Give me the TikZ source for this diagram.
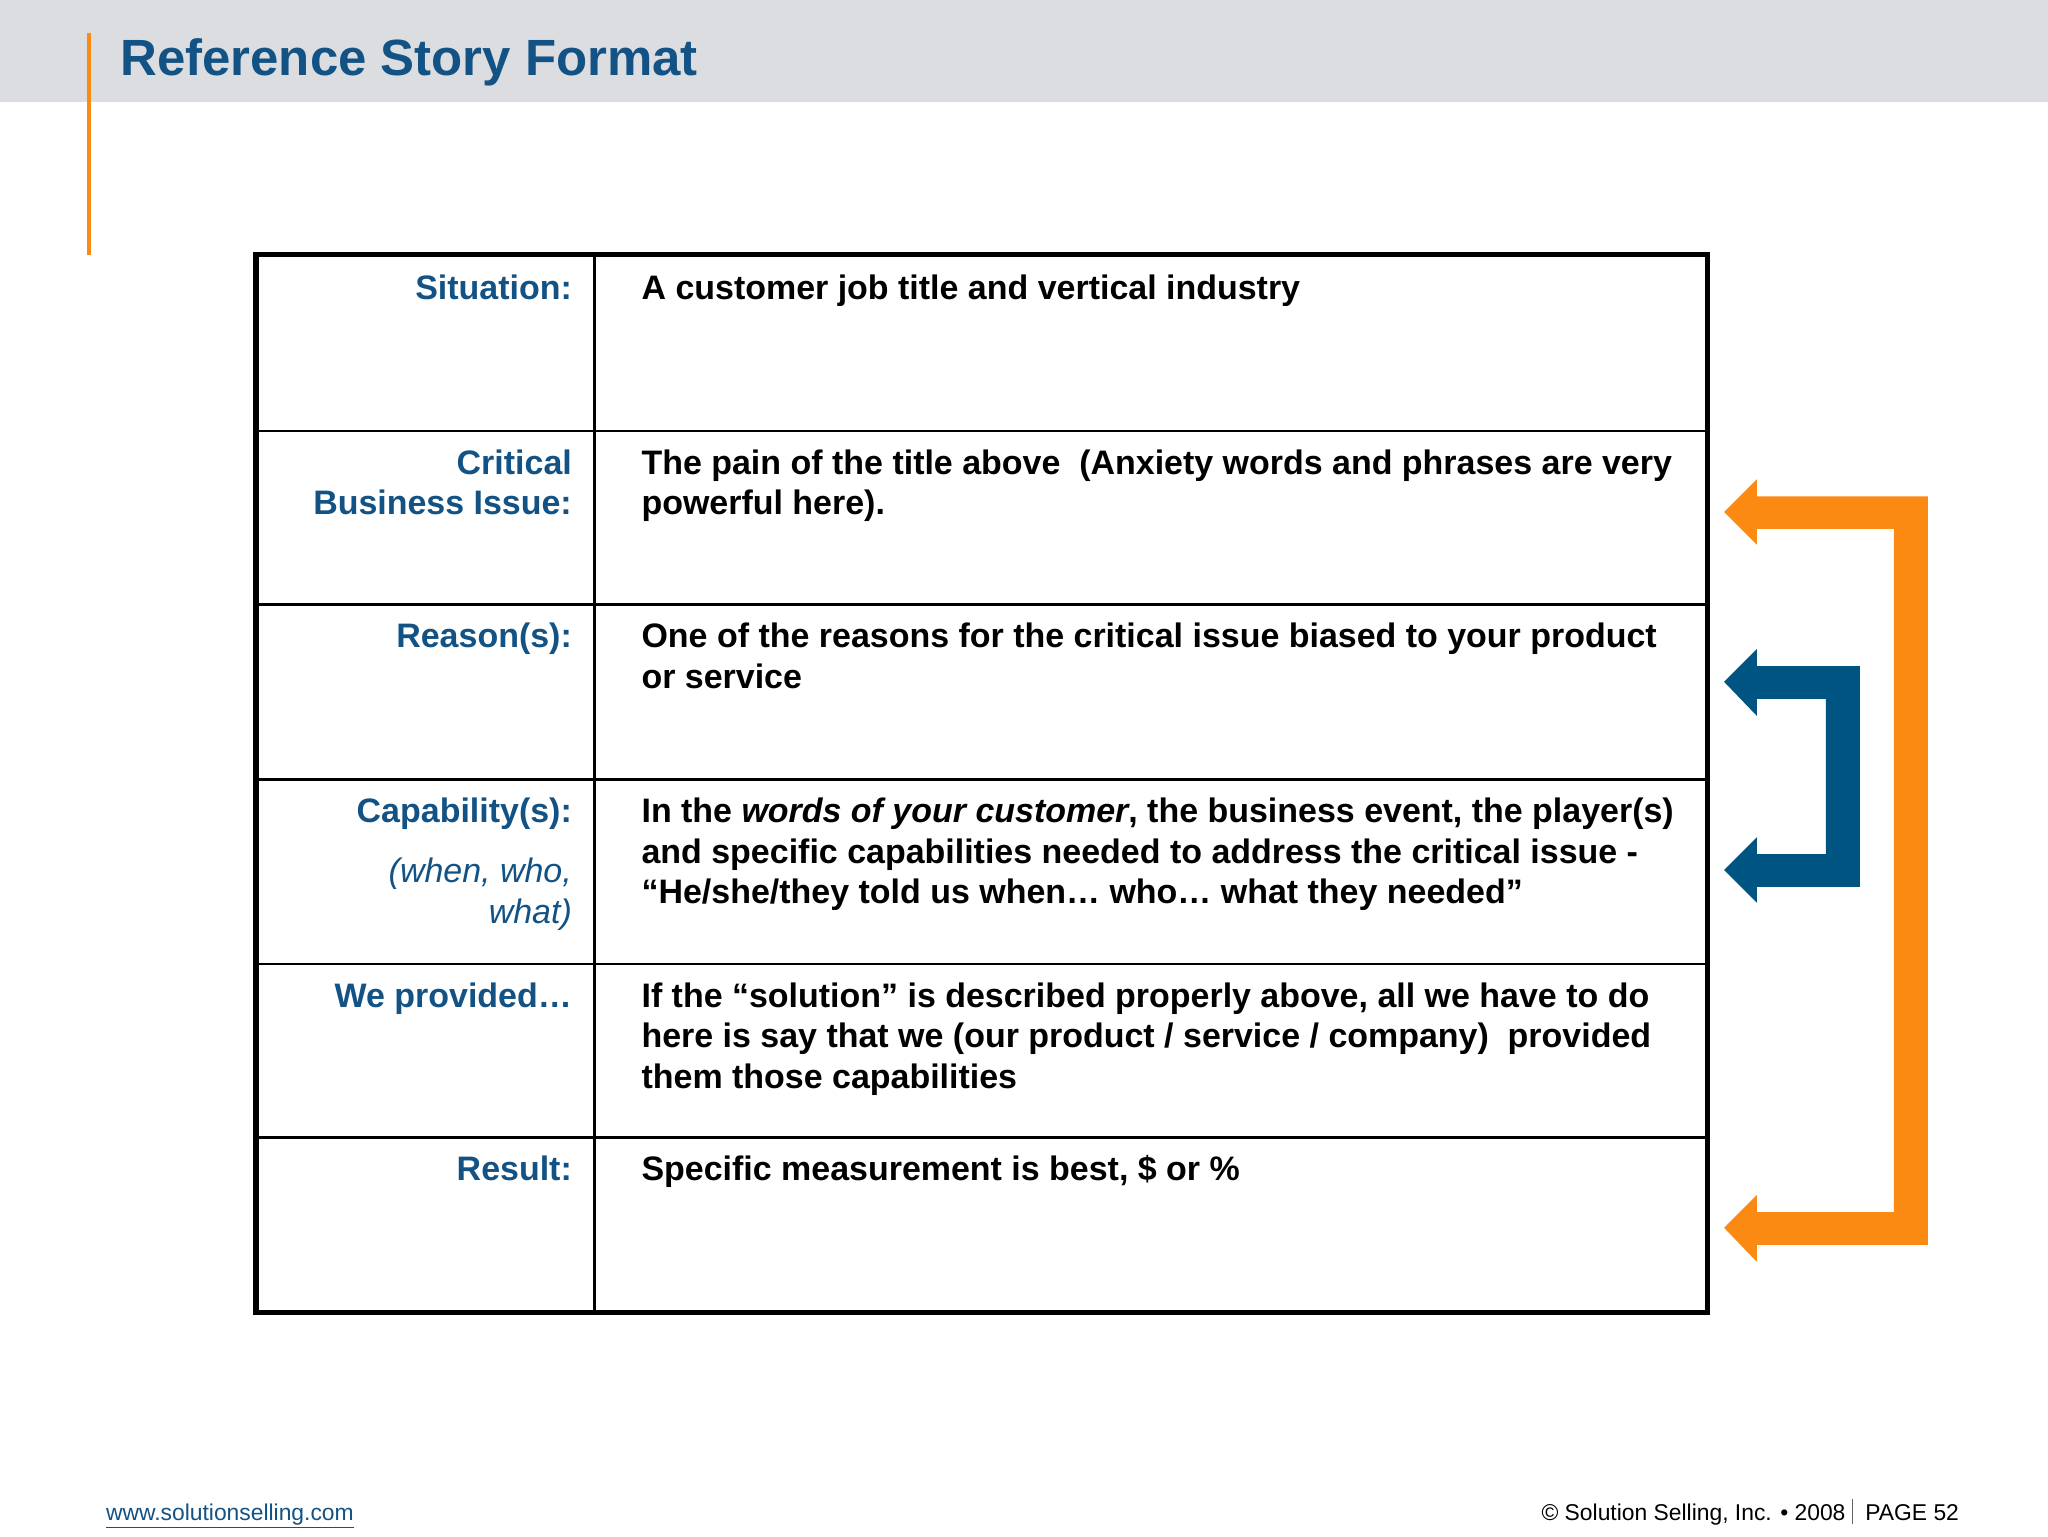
\documentclass[tikz,border=0pt]{standalone}
\usepackage{fontspec}
\setmainfont{Liberation Sans}
\definecolor{hdr}{RGB}{220,221,224}
\definecolor{lblue}{RGB}{18,82,132}
\definecolor{bblue}{RGB}{0,84,130}
\definecolor{org}{RGB}{250,138,18}
\begin{document}
\begin{tikzpicture}[x=1pt,y=-1pt,
  lbl/.style={anchor=base east,inner sep=0,font=\fontsize{26}{26}\selectfont\bfseries,text=lblue},
  body/.style={anchor=base west,inner sep=0,font=\fontsize{26}{26}\selectfont\bfseries},
  foot/.style={inner sep=0,font=\fontsize{17.5}{17.5}\selectfont}]
\useasboundingbox (0,0) rectangle (1568,1176);
\fill[white] (0,0) rectangle (1568,1176);
\fill[hdr] (0,0) rectangle (1568,78);
\draw[org,line width=3] (68,25) -- (68,195);
\node[anchor=base west,inner sep=0,text=lblue,font=\fontsize{39}{39}\selectfont\bfseries] (title) at (92,58) {Reference Story Format};
% table
\foreach \y in {330,463,597,738,871} \draw[line width=2] (196,\y) -- (1307,\y);
\draw[line width=2] (455,195) -- (455,1005);
\draw[line width=4] (196,195) rectangle (1307,1005);
% labels
\node[lbl] (l1) at (438,229) {Situation:};
\node[lbl] (l2a) at (438,363) {Critical};
\node[lbl] (l2b) at (438,394) {Business Issue:};
\node[lbl] (l3) at (438,496) {Reason(s):};
\node[lbl] (l4) at (438,630) {Capability(s):};
\node[lbl,font=\fontsize{26}{26}\selectfont\itshape] (l4b) at (438,676) {(when, who,};
\node[lbl,font=\fontsize{26}{26}\selectfont\itshape] (l4c) at (438,707) {what)};
\node[lbl] (l5) at (438,771) {We provided…};
\node[lbl] (l6) at (438,904) {Result:};
% body
\node[body] (b1) at (491,229) {A customer job title and vertical industry};
\node[body] (b2a) at (491,363) {The pain of the title above\ \ (Anxiety words and phrases are very};
\node[body] (b2b) at (491,394) {powerful here).};
\node[body] (b3a) at (491,496) {One of the reasons for the critical issue biased to your product};
\node[body] (b3b) at (491,527) {or service};
\node[body] (b4a) at (491,630) {In the \textit{words of your customer}, the business event, the player(s)};
\node[body] (b4b) at (491,661) {and specific capabilities needed to address the critical issue -};
\node[body] (b4c) at (491,692) {“He/she/they told us when… who… what they needed”};
\node[body] (b5a) at (491,771) {If the “solution” is described properly above, all we have to do};
\node[body] (b5b) at (491,802) {here is say that we (our product / service / company)\ \ provided};
\node[body] (b5c) at (491,833) {them those capabilities};
\node[body] (b6) at (491,904) {Specific measurement is best, \$ or \%};
% orange bracket
\fill[org] (1320,392) -- (1345,367) -- (1345,380) -- (1476,380) -- (1476,953) -- (1345,953) -- (1345,966) -- (1320,940) -- (1345,915) -- (1345,928) -- (1450,928) -- (1450,405) -- (1345,405) -- (1345,417) -- cycle;
% blue bracket
\fill[bblue] (1320,522) -- (1345,497) -- (1345,510) -- (1424,510) -- (1424,679) -- (1345,679) -- (1345,691) -- (1320,666) -- (1345,641) -- (1345,654) -- (1398,654) -- (1398,535) -- (1345,535) -- (1345,548) -- cycle;
% footer
\node[foot,anchor=base west,text=lblue] (url) at (81,1164) {\underline{www.solutionselling.com}};
\node[foot,anchor=base east] (copy) at (1500,1164) {© Solution Selling, Inc. • 2008 \textcolor{black!60}{\rule[-3pt]{0.6pt}{19pt}}\ \ PAGE 52};
\end{tikzpicture}
\end{document}
